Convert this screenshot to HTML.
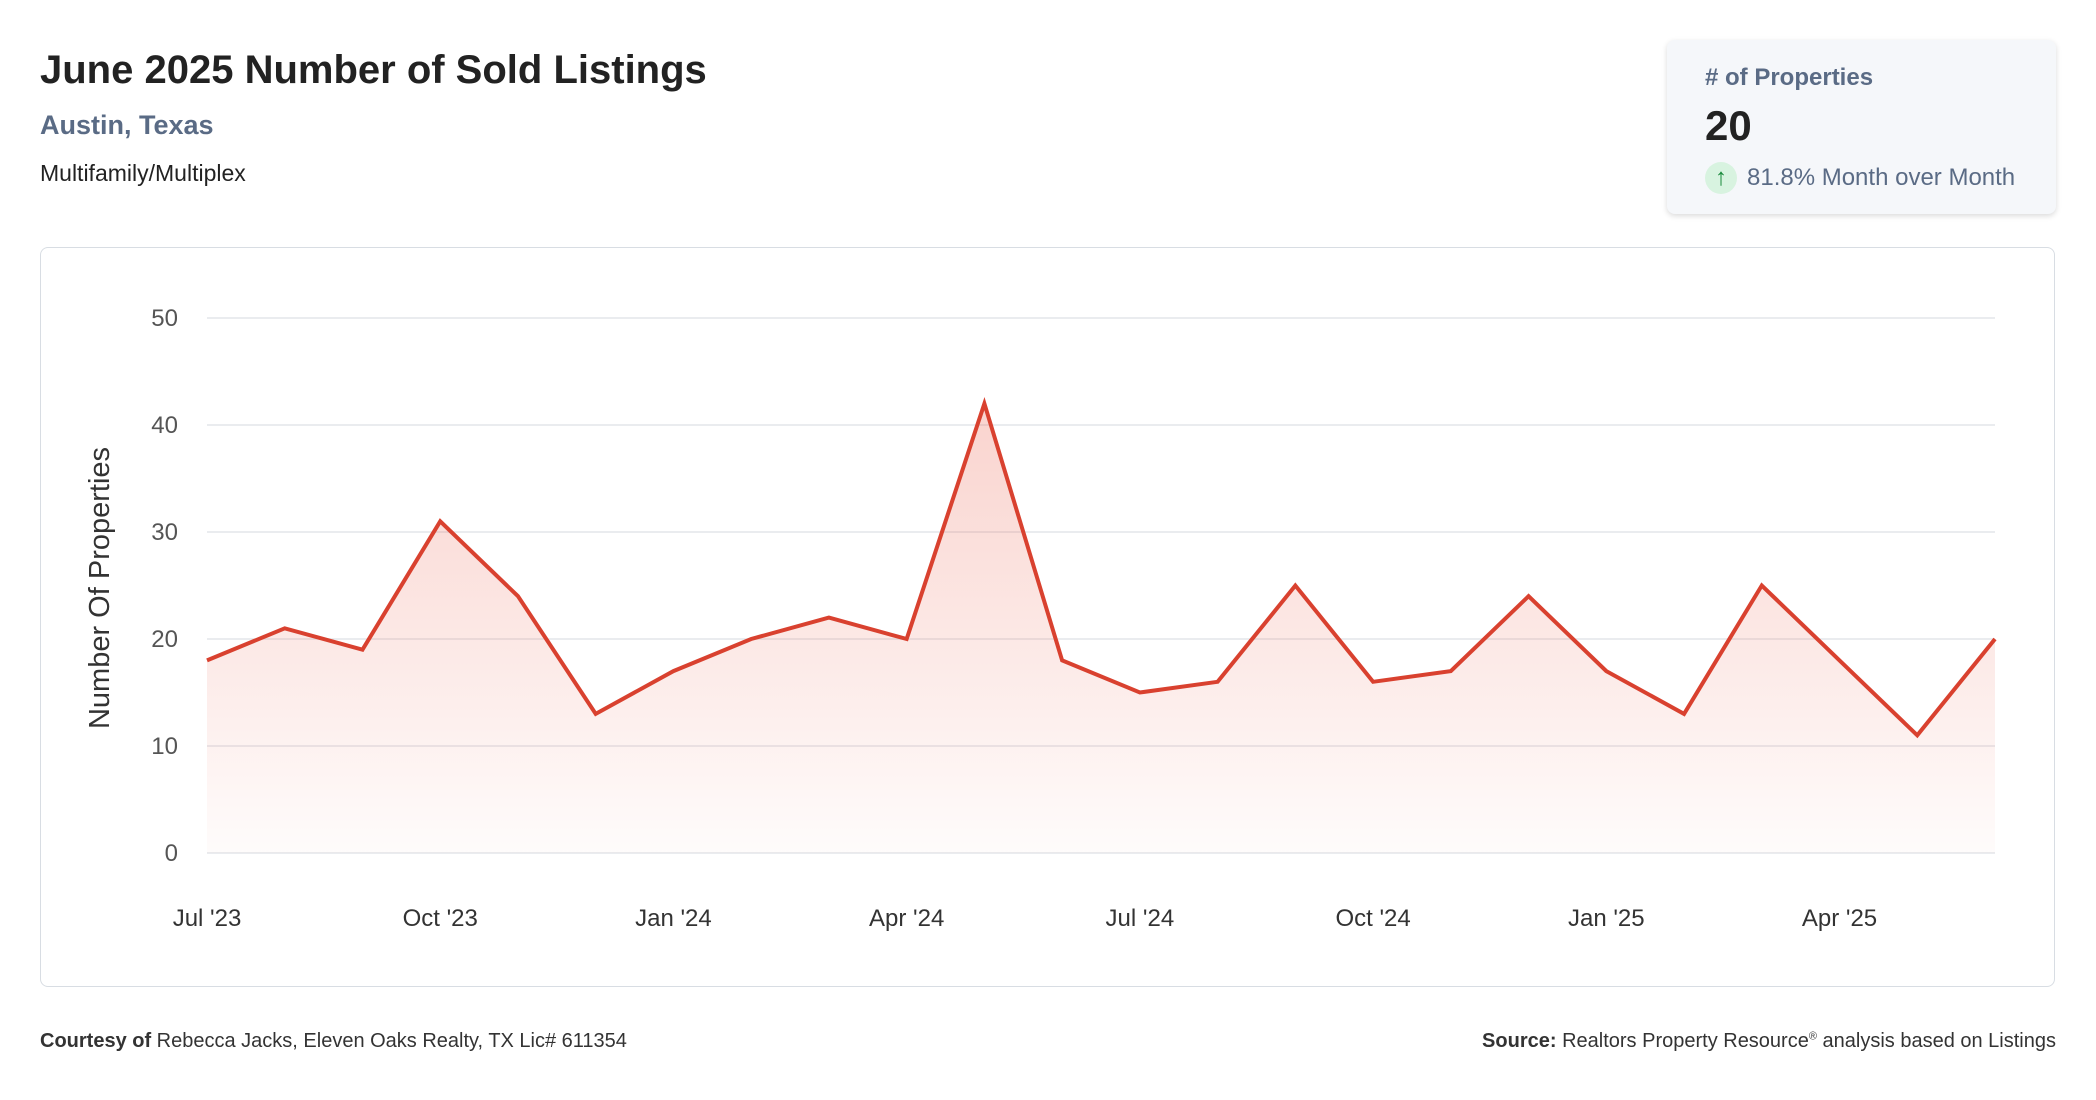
<!DOCTYPE html>
<html><head><meta charset="utf-8"><style>
body{margin:0;width:2096px;height:1100px;background:#fff;font-family:"Liberation Sans",sans-serif;position:relative;overflow:hidden}
.a{position:absolute;white-space:nowrap}
</style></head><body>
<div class="a" style="left:40px;top:48px;font-size:40px;font-weight:bold;color:#222">June 2025 Number of Sold Listings</div>
<div class="a" style="left:40px;top:110px;font-size:27px;font-weight:bold;color:#5a6b85">Austin, Texas</div>
<div class="a" style="left:40px;top:160px;font-size:23px;color:#222">Multifamily/Multiplex</div>
<div class="a" style="left:1667px;top:40px;width:389px;height:174px;background:#f5f7fa;border-radius:8px;box-shadow:0 2px 6px rgba(0,0,0,0.15)">
 <div class="a" style="left:38px;top:24px;font-size:24px;font-weight:bold;color:#5a6b85"># of Properties</div>
 <div class="a" style="left:38px;top:62px;font-size:42px;font-weight:bold;color:#222">20</div>
 <div class="a" style="left:38px;top:122px;width:32px;height:32px;border-radius:50%;background:#d8f3e0;color:#1a8a3c;font-size:24px;text-align:center;line-height:32px">↑</div>
 <div class="a" style="left:80px;top:124px;font-size:24px;color:#5a6b85">81.8% Month over Month</div>
</div>
<div class="a" style="left:40px;top:247px;width:2013px;height:738px;border:1.5px solid #d8dde3;border-radius:8px"></div>
<svg id="c" class="a" style="left:0;top:0" width="2096" height="1100">
<defs><linearGradient id="g" x1="0" y1="0" x2="0" y2="1"><stop offset="0" stop-color="#e8503a" stop-opacity="0.25"/><stop offset="1" stop-color="#e8503a" stop-opacity="0.02"/></linearGradient></defs>
<text transform="translate(109,588) rotate(-90)" text-anchor="middle" font-size="29" fill="#333" font-family="Liberation Sans">Number Of Properties</text>
</svg>
<div class="a" style="left:40px;top:1030px;font-size:20px;color:#333"><b>Courtesy of</b> Rebecca Jacks, Eleven Oaks Realty, TX Lic# 611354</div>
<div class="a" style="right:40px;top:1030px;font-size:20px;color:#333"><b>Source:</b> Realtors Property Resource<sup style="font-size:11px">®</sup> analysis based on Listings</div>
<script>
const months=["Jul '23","Aug '23","Sep '23","Oct '23","Nov '23","Dec '23","Jan '24","Feb '24","Mar '24","Apr '24","May '24","Jun '24","Jul '24","Aug '24","Sep '24","Oct '24","Nov '24","Dec '24","Jan '25","Feb '25","Mar '25","Apr '25","May '25","Jun '25"];
const values=[18,21,19,31,24,13,17,20,22,20,42,18,15,16,25,16,17,24,17,13,25,18,11,20];
const yTicks=[0,10,20,30,40,50];
const xLabelIdx=[0,3,6,9,12,15,18,21];
const svg=document.getElementById('c');const NS='http://www.w3.org/2000/svg';
const x0=207,x1=1995,y0=853,y1=318;
const xs=i=>x0+(x1-x0)*i/(months.length-1);
const ys=v=>y0-(y0-y1)*v/50;
function mk(t,a){const e=document.createElementNS(NS,t);for(const k in a)e.setAttribute(k,a[k]);svg.appendChild(e);return e;}
yTicks.forEach(t=>{
 const l=mk('line',{x1:x0,x2:x1,y1:ys(t),y2:ys(t),stroke:'#e3e6ea','stroke-width':1.5});
 
 
 const tx=mk('text',{x:178,y:ys(t)+8,'text-anchor':'end','font-size':24,fill:'#555','font-family':'Liberation Sans'});tx.textContent=t;
 
 
});
xLabelIdx.forEach(i=>{
 const tx=mk('text',{x:xs(i),y:926,'text-anchor':'middle','font-size':24,fill:'#333','font-family':'Liberation Sans'});tx.textContent=months[i];
 
 
});
const pts=values.map((v,i)=>xs(i)+','+ys(v)).join(' ');
const area=mk('polygon',{points:xs(0)+','+y0+' '+pts+' '+xs(values.length-1)+','+y0,fill:'url(#g)'});


const line=mk('polyline',{points:pts,fill:'none',stroke:'#d9412f','stroke-width':4,'stroke-linejoin':'miter'});


</script>
</body></html>
